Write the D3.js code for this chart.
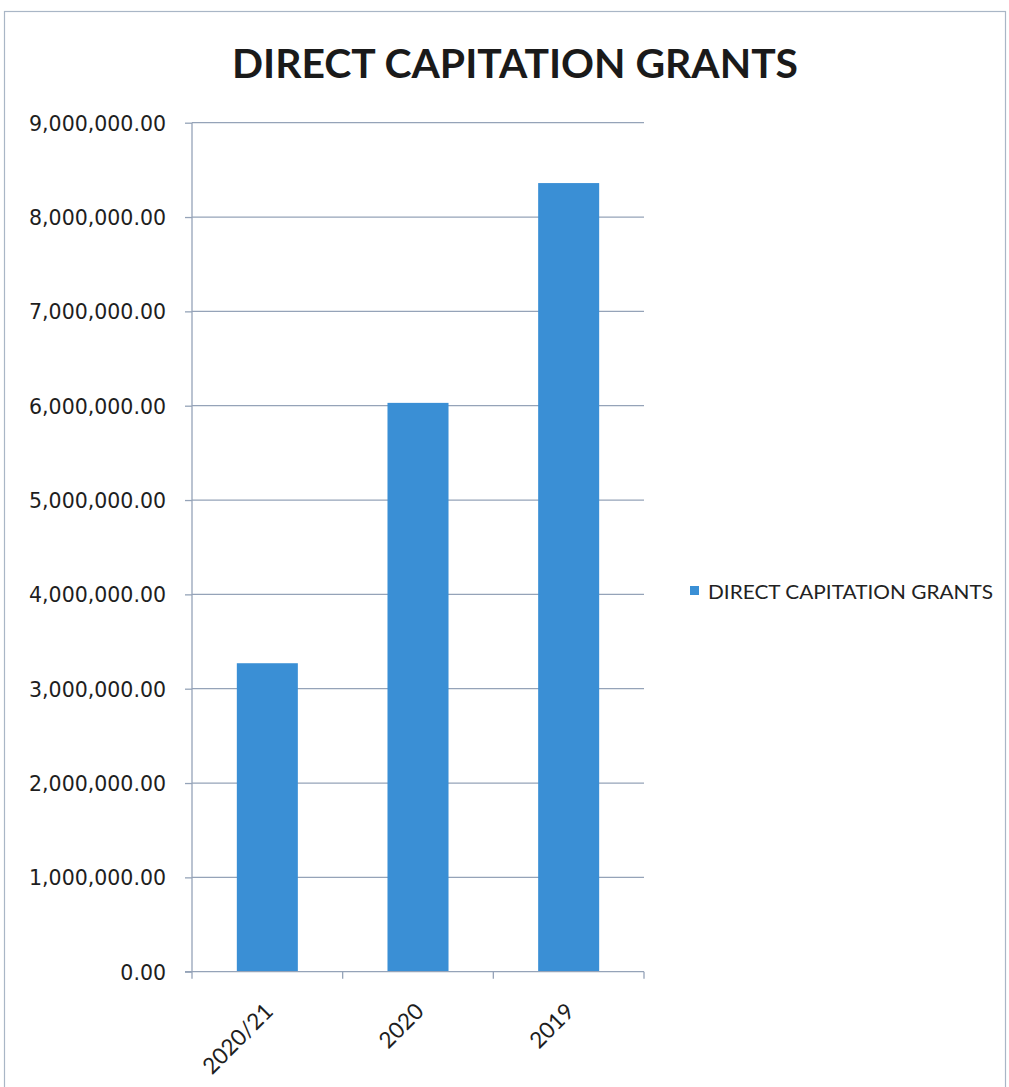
<!DOCTYPE html>
<html>
<head>
<meta charset="utf-8">
<script src="https://cdn.jsdelivr.net/npm/d3@7"></script>
<style>
  html, body { margin: 0; padding: 0; background: #fff; }
  svg { display: block; }
</style>
</head>
<body>
<svg id="chart" width="1009" height="1087"></svg>
<script>
// Direct capitation grants by period
const categories = ["2020/21", "2020", "2019"];
const grantValues = [3270000, 6030000, 8360000];
const yTicks = [0, 1000000, 2000000, 3000000, 4000000, 5000000, 6000000, 7000000, 8000000, 9000000];
const seriesName = "DIRECT CAPITATION GRANTS";
const chartTitle = "DIRECT CAPITATION GRANTS";

const svg = d3.select("#chart");
const barColor = "#3a8fd5";
const gridColor = "#95a3b8";

// outer chart frame
svg.append("rect")
  .attr("x", 4.5).attr("y", 11.5)
  .attr("width", 1001).attr("height", 1090)
  .attr("fill", "none")
  .attr("stroke", "#a9b6c6")
  .attr("stroke-width", 1.2);

const plot = { left: 192, right: 644, top: 122.7, bottom: 971.7 };

const x = d3.scaleBand()
  .domain(categories)
  .range([plot.left, plot.right])
  .paddingInner(0.595)
  .paddingOuter(0.2975);

const y = d3.scaleLinear()
  .domain([0, 9000000])
  .range([plot.bottom, plot.top]);

// horizontal gridlines
svg.append("g")
  .selectAll("line")
  .data(yTicks.filter(d => d > 0))
  .join("line")
  .attr("x1", plot.left).attr("x2", plot.right)
  .attr("y1", d => y(d)).attr("y2", d => y(d))
  .attr("stroke", gridColor)
  .attr("stroke-width", 1.3);

// bars
svg.append("g")
  .selectAll("rect")
  .data(categories.map((c, i) => ({ c, v: grantValues[i] })))
  .join("rect")
  .attr("x", d => x(d.c))
  .attr("width", x.bandwidth())
  .attr("y", d => y(d.v))
  .attr("height", d => y(0) - y(d.v))
  .attr("fill", barColor);

// y axis
const yAxis = d3.axisLeft(y)
  .tickValues(yTicks)
  .tickSize(7)
  .tickPadding(19)
  .tickFormat(d3.format(",.2f"));

const gy = svg.append("g")
  .attr("transform", `translate(${plot.left},0)`)
  .call(yAxis);
gy.select(".domain").attr("stroke", gridColor).attr("stroke-width", 1.3)
  .attr("d", `M0,${plot.top}V${plot.bottom}`);
gy.selectAll(".tick line").attr("stroke", gridColor).attr("stroke-width", 1.3);
gy.selectAll(".tick text")
  .attr("fill", "#1e1e1e")
  .style("font-family", "'DejaVu Sans', Verdana, sans-serif")
  .style("font-size", "20.5px")
  .attr("dy", "0.36em");

// x axis with ticks at band boundaries
const gx = svg.append("g")
  .attr("transform", `translate(0,${plot.bottom})`);
gx.append("line")
  .attr("x1", plot.left - 7).attr("x2", plot.right)
  .attr("stroke", gridColor).attr("stroke-width", 1.3);
const boundaries = categories.map(c => x(c) - x.step() * x.paddingInner() / 2);
boundaries.push(plot.right);
boundaries[0] = plot.left;
gx.selectAll("line.tk")
  .data(boundaries)
  .join("line")
  .attr("class", "tk")
  .attr("x1", d => d).attr("x2", d => d)
  .attr("y1", 0).attr("y2", 7)
  .attr("stroke", gridColor).attr("stroke-width", 1.3);

gx.selectAll("text")
  .data(categories)
  .join("text")
  .attr("transform", c => `translate(${x(c) + x.bandwidth() / 2 - 4},${30}) rotate(-45)`)
  .attr("text-anchor", "end")
  .attr("dy", "0.7em")
  .attr("fill", "#1e1e1e")
  .style("font-family", "Lato, 'Open Sans', sans-serif")
  .style("font-size", "22.5px")
  .text(c => c);

// title
svg.append("text")
  .attr("x", 515).attr("y", 78)
  .attr("text-anchor", "middle")
  .attr("fill", "#1a1a1a")
  .attr("textLength", 566)
  .attr("lengthAdjust", "spacingAndGlyphs")
  .style("font-family", "Lato, 'Open Sans', sans-serif")
  .style("font-weight", "bold")
  .style("font-size", "40px")
  .text(chartTitle);

// legend
const legend = svg.append("g").attr("transform", "translate(690,586)");
legend.append("rect")
  .attr("x", 0).attr("y", 0)
  .attr("width", 9).attr("height", 9)
  .attr("fill", barColor);
legend.append("text")
  .attr("x", 18).attr("y", 13)
  .attr("fill", "#222")
  .attr("textLength", 285)
  .attr("lengthAdjust", "spacingAndGlyphs")
  .style("font-family", "Lato, 'Open Sans', sans-serif")
  .style("font-size", "19px")
  .text(seriesName);
</script>
</body>
</html>
